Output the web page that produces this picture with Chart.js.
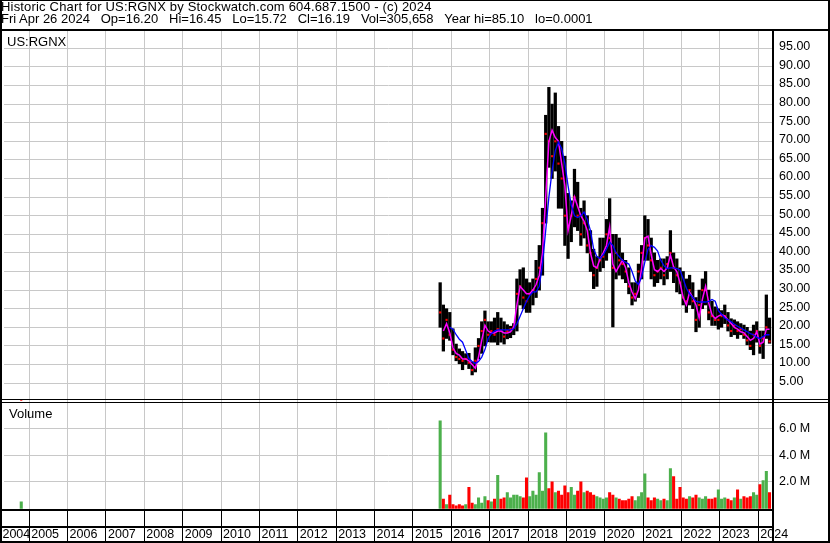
<!DOCTYPE html>
<html>
<head>
<meta charset="utf-8">
<title>Historic Chart for US:RGNX</title>
<script src="https://cdn.jsdelivr.net/npm/chart.js@4.4.1/dist/chart.umd.min.js"></script>
<style>
  html, body { margin: 0; padding: 0; background: #fff; }
  #wrap { position: relative; width: 830px; height: 543px; overflow: hidden;
          font-family: 'Liberation Sans', Arial, sans-serif; color: #000; }
  #chart { position: absolute; left: 0; top: 0; }
  .hdr { position: absolute; left: 1px; font-size: 13px; line-height: 12.3px; white-space: pre; }
  .tag { position: absolute; font-size: 13px; line-height: 15px; white-space: pre; }
</style>
</head>
<body>
<div id="wrap">
  <canvas id="chart" width="830" height="543"></canvas>
  <div class="hdr" style="top:0.5px; letter-spacing:0.18px">Historic Chart for US:RGNX by Stockwatch.com 604.687.1500 - (c) 2024</div>
  <div class="hdr" style="top:12.8px">Fri Apr 26 2024   Op=16.20   Hi=16.45   Lo=15.72   Cl=16.19   Vol=305,658   Year hi=85.10   lo=0.0001</div>
  <div class="tag" style="left:7px; top:34px">US:RGNX</div>
  <div class="tag" style="left:9px; top:406px">Volume</div>
</div>
<script>
// monthly samples (first one is the stray 2004 print)
const months = [
  '2004-10',
  '2015-09', '2015-10', '2015-11', '2015-12',
  '2016-01', '2016-02', '2016-03', '2016-04', '2016-05', '2016-06', '2016-07', '2016-08', '2016-09', '2016-10', '2016-11', '2016-12',
  '2017-01', '2017-02', '2017-03', '2017-04', '2017-05', '2017-06', '2017-07', '2017-08', '2017-09', '2017-10', '2017-11', '2017-12',
  '2018-01', '2018-02', '2018-03', '2018-04', '2018-05', '2018-06', '2018-07', '2018-08', '2018-09', '2018-10', '2018-11', '2018-12',
  '2019-01', '2019-02', '2019-03', '2019-04', '2019-05', '2019-06', '2019-07', '2019-08', '2019-09', '2019-10', '2019-11', '2019-12',
  '2020-01', '2020-02', '2020-03', '2020-04', '2020-05', '2020-06', '2020-07', '2020-08', '2020-09', '2020-10', '2020-11', '2020-12',
  '2021-01', '2021-02', '2021-03', '2021-04', '2021-05', '2021-06', '2021-07', '2021-08', '2021-09', '2021-10', '2021-11', '2021-12',
  '2022-01', '2022-02', '2022-03', '2022-04', '2022-05', '2022-06', '2022-07', '2022-08', '2022-09', '2022-10', '2022-11', '2022-12',
  '2023-01', '2023-02', '2023-03', '2023-04', '2023-05', '2023-06', '2023-07', '2023-08', '2023-09', '2023-10', '2023-11', '2023-12',
  '2024-01', '2024-02', '2024-03', '2024-04'
];

const highs = [
  0.1,
  32, 26, 25, 24,
  19.6, 15.5, 14.2, 13.5, 12.9, 13, 10.7, 14.5, 17, 21.5, 24.4, 21.5,
  21.5, 22.5, 24, 22.5, 21.5, 20.7, 20.3, 21, 33, 35.5, 36, 33,
  32, 33, 38, 42, 52, 77, 84.5, 80, 83, 74, 70, 66,
  56, 54, 62.5, 59, 52, 54, 50, 46, 41, 39, 44, 44,
  49, 54.6, 45, 45, 44, 40, 38, 36, 32, 32, 37, 42,
  50, 49, 44, 40, 38, 38.4, 38.4, 39, 46, 40, 38.4, 36,
  35, 33, 34, 32, 28, 30, 33, 35, 30, 27, 25.5, 25,
  24.5, 26, 24, 22.3, 22, 21.5, 21, 20.6, 20, 19, 20.6, 21.5,
  19, 19, 28.7, 22.5
];

const lows = [
  0,
  20, 13.6, 17, 16.5,
  12.6, 11, 10.2, 8.6, 10, 8.9, 7.2, 8, 11.5, 13, 15, 16.1,
  16, 16, 15.3, 16, 15.5, 16.9, 17.2, 18, 19, 26, 25, 24,
  24, 26, 28, 30, 34, 48, 63, 60, 62, 52, 52, 42,
  38.5, 43, 47, 46, 42, 44, 40, 35, 30.4, 31, 35, 36,
  38, 40, 20.1, 33, 34, 33, 32, 29, 26, 27, 28, 33,
  38, 38, 33, 31, 32, 33, 31.4, 33, 35, 32, 29.5, 29,
  26, 24, 26, 25, 18.8, 20, 25, 26, 22, 20.5, 20.5, 19.5,
  20, 21, 19, 17.5, 18, 17, 18, 17, 15.3, 14, 12.6, 16,
  13, 11.6, 17, 15.7
];

const closes = [
  0.1,
  24, 17, 22, 18,
  14, 12, 11.5, 11, 11.5, 10.5, 8.5, 11, 15, 19, 22, 18,
  19, 18, 19.5, 19, 17.5, 19, 19.5, 20, 29, 31, 28, 27,
  29, 30, 33, 36, 48, 72, 70, 66, 70, 64, 60, 50,
  47, 50, 55, 50, 45, 48, 42, 40, 34, 36, 38, 39,
  45, 44, 36, 40, 38, 37, 35, 31, 28, 29, 35, 40,
  44, 42, 38, 34, 35, 36, 34, 37, 40, 36, 34, 32,
  28, 27, 30, 27, 22, 26, 30, 30, 24, 23, 22, 22,
  23, 23, 20.5, 19, 20.5, 19, 19.5, 18, 16.5, 15, 18, 19,
  15, 17, 20, 16.2
];

// magenta (short) and blue (long) averages as drawn
const maFast = [
  null,
  null, 19, 21, 18.5,
  14.5, 13, 12.5, 11.5, 11.5, 11, 10, 9, 12, 16.5, 20.5, 19,
  18.5, 18.5, 19, 19, 18.5, 18.5, 18.8, 20, 26, 31, 30, 29,
  29, 30, 31.5, 34, 40, 55, 70, 73, 71, 70, 64, 58,
  46, 50, 55, 52.5, 50, 48.5, 46, 40, 36.5, 36, 38.4, 40,
  42, 47, 37, 35, 36.5, 38, 36, 32, 29.5, 27.7, 30, 36,
  44, 44.5, 39.5, 35.5, 35, 35.8, 35, 36, 39.4, 36.2, 35, 32,
  28, 26, 29.5, 28, 26, 22.5, 27.5, 31, 26.5, 23.4, 22.4, 23,
  23.4, 23, 22, 21, 20, 19.5, 18.8, 18.5, 17.5, 16.5, 17, 18.8,
  15.5, 16, 19.5, 19.5
];

const maSlow = [
  null,
  null, null, null, 20,
  19.5, 18, 16.8, 16, 13.8, 11.6, 10.8, 10.3, 10.8, 12, 14, 17,
  18.3, 19, 19.3, 19.3, 19.3, 19.3, 19.3, 19.6, 21, 23, 25, 27,
  28.5, 29.5, 29.5, 31, 37, 46, 55, 62, 67.5, 69.8, 68, 64,
  58, 52.8, 50, 49.5, 50, 51, 49, 46, 41, 39, 38.5, 39.5,
  41, 42.9, 42, 40, 39, 38, 37.5, 37, 35, 32.5, 31.5, 33.5,
  37.5, 41, 42, 41.5, 40.5, 38, 36.5, 35.8, 36, 36, 35.8, 35.4,
  33, 30.5, 29, 28, 27, 26.8, 26.8, 26.8, 27, 27.5, 27, 24.5,
  23.5, 22.5, 22, 21.5, 20.8, 20.3, 19.8, 19.3, 18.8, 18.3, 18, 17.3,
  17, 17.5, 18, 18
];

// millions of shares
const volumeM = [
  0.5,
  6.6, 0.7, 0.3, 1.0,
  0.3, 0.2, 0.3, 0.2, 0.3, 1.6, 0.4, 0.3, 0.8, 0.4, 0.9, 0.6,
  0.5, 0.7, 2.5, 0.7, 0.8, 1.2, 0.8, 1.0, 1.0, 0.9, 0.8, 2.3,
  0.9, 1.3, 1.0, 2.7, 1.3, 5.7, 1.5, 2.0, 1.2, 1.3, 1.0, 1.7,
  1.2, 1.6, 1.0, 1.3, 2.0, 1.2, 1.3, 1.2, 1.0, 0.9, 0.8, 0.7,
  0.8, 1.2, 1.0, 0.8, 0.7, 0.6, 0.6, 0.7, 0.9, 0.6, 0.9, 1.2,
  2.6, 0.8, 0.6, 0.8, 0.7, 0.6, 0.7, 0.6, 3.0, 2.4, 0.7, 1.6,
  0.8, 0.7, 0.9, 0.8, 1.0, 0.8, 0.7, 0.9, 0.7, 0.7, 0.8, 1.4,
  0.7, 0.8, 0.7, 0.6, 0.8, 1.4, 0.7, 0.9, 0.8, 0.9, 1.2, 1.0,
  1.8, 2.1, 2.8, 1.2
];

// year ticks; the 2004 label sits a bit in because its line is off the left edge
const yearTicks = [2004.25, 2005, 2006, 2007, 2008, 2009, 2010, 2011, 2012, 2013, 2014,
  2015, 2016, 2017, 2018, 2019, 2020, 2021, 2022, 2023, 2024];
const yearLabels = ['2004', '2005', '2006', '2007', '2008', '2009', '2010', '2011', '2012', '2013', '2014',
  '2015', '2016', '2017', '2018', '2019', '2020', '2021', '2022', '2023', '2024'];
const priceTicks = [5, 10, 15, 20, 25, 30, 35, 40, 45, 50, 55, 60, 65, 70, 75, 80, 85, 90, 95];
const volumeTicks = [2, 4, 6];

const UP = '#4cb04c';
const DOWN = '#ff0000';
const GRID = '#c8c8c8';

function toYear(m) {
  const [y, mo] = m.split('-').map(Number);
  return y + (mo - 0.5) / 12;
}

const t = months.map(toYear);
const hiLo = t.map((x, i) => ({ x, y: [lows[i], highs[i]] }));
const closePts = t.map((x, i) => ({ x, y: closes[i] }));
const fastPts = t.map((x, i) => ({ x, y: maFast[i] }));
const slowPts = t.map((x, i) => ({ x, y: maSlow[i] }));
const volPts = t.map((x, i) => ({ x, y: volumeM[i] }));
const volColors = closes.map((c, i) => (i === 0 || c >= closes[i - 1]) ? UP : DOWN);

Chart.defaults.font.family = "'Liberation Sans', Arial, sans-serif";
Chart.defaults.color = '#000';

// keep the plot edges where the picture has them
function noPad(s) {
  s.paddingLeft = 0; s.paddingRight = 0; s.paddingTop = 0; s.paddingBottom = 0;
}

const framePlugin = {
  id: 'frame',
  afterDraw(chart) {
    const { ctx, chartArea: a, width: W, height: H } = chart;
    const x = chart.scales.x;
    const split = Math.round(chart.scales.y.bottom);
    const band = Math.floor(a.bottom + x.options.grid.tickLength);
    ctx.save();
    ctx.fillStyle = '#000';
    ctx.fillRect(0, 0, W, 1);
    ctx.fillRect(0, 0, 2, H);
    ctx.fillRect(W - 2, 0, 2, H);
    ctx.fillRect(0, H - 2, W, 2);
    ctx.fillRect(0, a.top - 2, W, 2);
    ctx.fillRect(a.right - 1, a.top, 2, H - a.top);
    // double rule between price and volume
    ctx.fillRect(0, split - 2, W, 1);
    ctx.fillRect(0, split + 1, W, 1);
    // date band
    ctx.fillRect(0, Math.floor(a.bottom), a.right, 2);
    ctx.fillRect(0, band, a.right, 2);
    x.ticks.forEach(tk => {
      const px = x.getPixelForValue(tk.value);
      if (px > a.left && px < a.right) ctx.fillRect(Math.round(px - 0.5), band, 1, H - band);
    });
    ctx.restore();
  }
};

new Chart(document.getElementById('chart'), {
  type: 'bar',
  data: {
    datasets: [
      { type: 'line', data: slowPts, yAxisID: 'y', borderColor: '#0000ff', borderWidth: 1.3,
        pointRadius: 0, pointHoverRadius: 0, tension: 0, order: 1 },
      { type: 'line', data: fastPts, yAxisID: 'y', borderColor: '#ff00ff', borderWidth: 1.5,
        pointRadius: 0, pointHoverRadius: 0, tension: 0, order: 2 },
      { type: 'line', data: closePts, yAxisID: 'y', showLine: false, pointStyle: 'rect',
        pointRadius: 1.5, pointBackgroundColor: DOWN, pointBorderWidth: 0, order: 3 },
      { type: 'bar', data: hiLo, yAxisID: 'y', backgroundColor: '#000', barThickness: 2.6,
        grouped: false, order: 4 },
      { type: 'bar', data: volPts, yAxisID: 'vol', backgroundColor: volColors, barThickness: 2.4,
        grouped: false, order: 5 }
    ]
  },
  options: {
    responsive: false,
    animation: false,
    devicePixelRatio: 1,
    layout: { padding: { top: 31, left: 2, right: 0, bottom: 0 } },
    plugins: { legend: { display: false }, tooltip: { enabled: false } },
    scales: {
      x: {
        type: 'linear',
        min: 2004.342,
        max: 2024.382,
        offset: false,
        grid: { color: GRID, offset: false, drawTicks: true, tickLength: 17, tickColor: '#000' },
        border: { display: false },
        ticks: {
          align: 'start', labelOffset: 2, padding: 1, autoSkip: false, maxRotation: 0,
          font: { size: 12.5 },
          callback: (v, i) => yearLabels[i]
        },
        afterBuildTicks: s => { s.ticks = yearTicks.map(v => ({ value: v })); },
        afterFit: s => { s.height = 33.5; noPad(s); }
      },
      y: {
        position: 'right',
        stack: 'panels',
        stackWeight: 370,
        min: 0.19,
        max: 99.65,
        grid: { color: GRID, drawTicks: false },
        border: { display: false },
        ticks: { padding: 6, labelOffset: -1.5, autoSkip: false, font: { size: 12.5 },
                 callback: v => v.toFixed(2) },
        afterBuildTicks: s => { s.ticks = priceTicks.map(v => ({ value: v })); },
        afterFit: s => { s.width = 57; noPad(s); }
      },
      vol: {
        position: 'right',
        stack: 'panels',
        stackWeight: 108.5,
        min: -0.08,
        max: 8.1,
        grid: { color: GRID, drawTicks: false },
        border: { display: false },
        ticks: { padding: 6, autoSkip: false, font: { size: 12.5 },
                 callback: v => v.toFixed(1) + ' M' },
        afterBuildTicks: s => { s.ticks = volumeTicks.map(v => ({ value: v })); },
        afterFit: s => { s.width = 57; noPad(s); }
      }
    }
  },
  plugins: [framePlugin]
});
</script>
</body>
</html>
